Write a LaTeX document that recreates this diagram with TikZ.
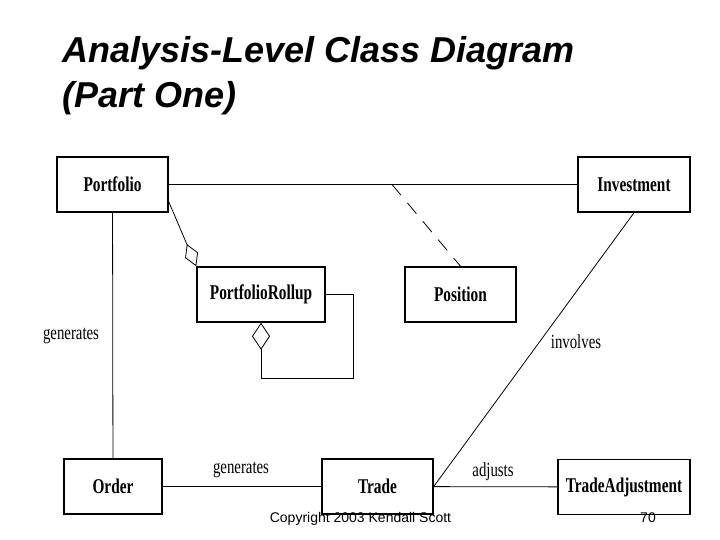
\documentclass[tikz,border=0pt]{standalone}
\usepackage{fontspec}
\setmainfont{Liberation Serif}
\setsansfont{Liberation Sans}
\newfontfamily\clsfont[FakeStretch=0.73]{Liberation Serif}
\newfontfamily\lblfont[FakeStretch=0.74]{Liberation Serif}
\usetikzlibrary{arrows.meta}

\begin{document}
\begin{tikzpicture}[x=1pt, y=-1pt,
    classbox/.style={draw, line width=1.5pt, minimum height=55pt, inner sep=0pt,
        font=\clsfont\bfseries\fontsize{21}{21}\selectfont},
    assoc/.style={line width=0.8pt},
    aggr/.style={line width=0.8pt, -{Diamond[open, length=24pt, width=14pt]}},
    lbl/.style={font=\lblfont\fontsize{20}{20}\selectfont, inner sep=0pt}]
    \useasboundingbox (0,0) rectangle (720,540);
    % --- Title ---
    \node[anchor=base west, inner sep=0pt, font=\sffamily\bfseries\itshape\fontsize{36}{45}\selectfont] (title) at (62,63) {Analysis-Level Class Diagram};
    \node[anchor=base west, inner sep=0pt, font=\sffamily\bfseries\itshape\fontsize{36}{45}\selectfont] (subtitle) at (62,108) {(Part One)};
    % --- Classes ---
    \node[classbox, minimum width=111pt] (portfolio) at (112.5,184.5) {Portfolio};
    \node[classbox, minimum width=128pt] (rollup) at (261,294.5) {PortfolioRollup};
    \node[classbox, minimum width=111pt] (position) at (460.5,294.5) {Position};
    \node[classbox, minimum width=112pt] (investment) at (634,184.5) {Investment};
    \node[classbox, minimum width=98pt] (order) at (113,486.5) {Order};
    \node[classbox, minimum width=111pt] (trade) at (377.5,486.5) {Trade};
    \node[classbox, minimum width=132pt] (tradeadj) at (624,487) {TradeAdjustment};
    % --- Associations ---
    \coordinate (assocpt) at (392,184.5);
    \coordinate (aggstart) at (168,200);
    \coordinate (loopcorner) at (353,378);
    \draw[assoc] (portfolio) -- (investment);
    \draw[assoc, dash pattern=on 14pt off 10pt] (assocpt) -- (position.north);
    \draw[aggr] (aggstart) -- (rollup.north west);
    \draw[aggr, -{Diamond[open, length=27pt, width=18pt]}] (rollup.east) -| (loopcorner) -| (rollup.south);
    \draw[assoc] (portfolio) -- (order);
    \draw[assoc] (investment.south) -- (trade.east);
    \draw[assoc] (order) -- (trade);
    \draw[assoc] (trade) -- (tradeadj);
    % --- Labels ---
    \node[lbl] (genleft) at (71,336) {generates};
    \node[lbl] (involves) at (576,342) {involves};
    \node[lbl] (genbottom) at (241,470) {generates};
    \node[lbl] (adjusts) at (493,472) {adjusts};
    % --- Footer ---
    \node[anchor=base, inner sep=0pt, font=\sffamily\fontsize{14}{14}\selectfont] (copyright) at (360.5,522) {Copyright 2003 Kendall Scott};
    \node[anchor=base, inner sep=0pt, font=\sffamily\fontsize{14}{14}\selectfont] (pagenum) at (648,522) {70};
\end{tikzpicture}
\end{document}
